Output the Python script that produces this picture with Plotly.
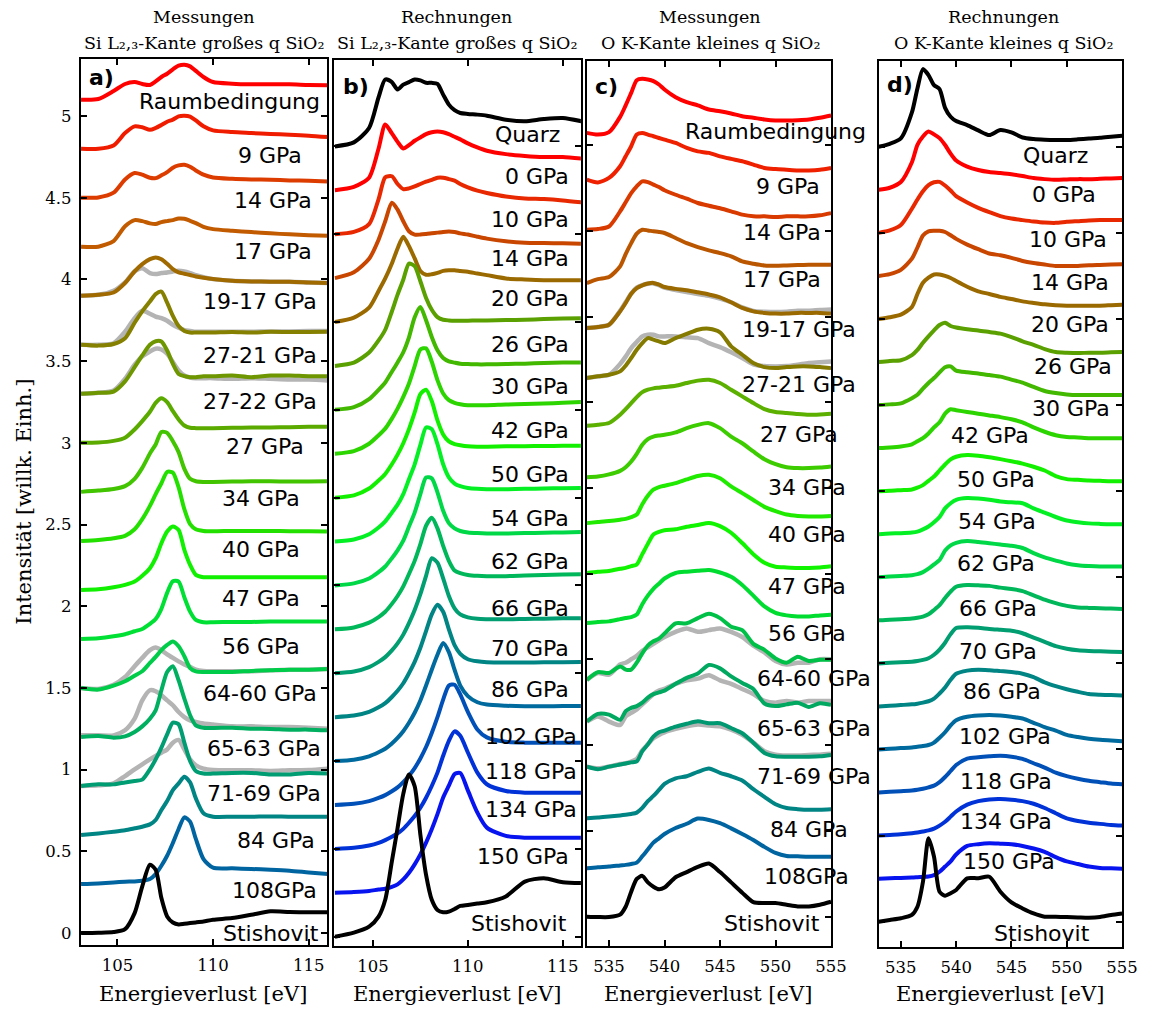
import plotly.graph_objects as go

W, H = 1160, 1009


def fx(p):
    return p / W


def fy(p):
    return 1 - p / H


# ---------------- Panel a : Messungen Si L2,3 ----------------
a_energy = [103.1, 104, 104.8, 105.4, 105.9, 106.3, 106.7, 107.0, 107.3, 107.6, 107.9, 108.2,
            108.5, 108.8, 109.1, 109.5, 110, 111, 112, 113, 114, 115, 116]
a_labels = ["Raumbedingung", "9 GPa", "14 GPa", "17 GPa", "19-17 GPa", "27-21 GPa", "27-22 GPa",
            "27 GPa", "34 GPa", "40 GPa", "47 GPa", "56 GPa", "64-60 GPa", "65-63 GPa",
            "71-69 GPa", "84 GPa", "108GPa", "Stishovit"]
a_offsets = [5.1, 4.8, 4.5, 4.2, 3.9, 3.6, 3.3, 3.0, 2.7, 2.4, 2.1, 1.8, 1.5, 1.2, 0.9, 0.6, 0.3, 0.0]
a_intensity = [
    [0, 0.004, 0.053, 0.096, 0.108, 0.096, 0.090, 0.112, 0.139, 0.159, 0.186, 0.208, 0.214, 0.204, 0.176, 0.139, 0.108, 0.098, 0.094, 0.094, 0.094, 0.090, 0.088],
    [0, 0, 0.020, 0.096, 0.137, 0.131, 0.116, 0.127, 0.145, 0.165, 0.178, 0.198, 0.202, 0.196, 0.173, 0.137, 0.112, 0.102, 0.096, 0.090, 0.086, 0.080, 0.071],
    [0, 0.002, 0.031, 0.112, 0.151, 0.141, 0.122, 0.120, 0.137, 0.157, 0.184, 0.198, 0.202, 0.190, 0.167, 0.141, 0.124, 0.116, 0.112, 0.110, 0.106, 0.104, 0.100],
    [0, 0, 0.035, 0.125, 0.163, 0.157, 0.143, 0.139, 0.151, 0.157, 0.163, 0.173, 0.171, 0.159, 0.145, 0.122, 0.108, 0.098, 0.090, 0.082, 0.076, 0.071, 0.067],
    [0, 0.006, 0.020, 0.078, 0.149, 0.194, 0.224, 0.235, 0.224, 0.196, 0.163, 0.143, 0.135, 0.127, 0.118, 0.110, 0.102, 0.092, 0.088, 0.086, 0.086, 0.082, 0.078],
    [0, -0.005, 0.005, 0.040, 0.135, 0.205, 0.265, 0.310, 0.325, 0.258, 0.177, 0.115, 0.085, 0.075, 0.075, 0.075, 0.075, 0.078, 0.075, 0.080, 0.078, 0.078, 0.080],
    [0, 0.006, 0.014, 0.076, 0.163, 0.235, 0.300, 0.322, 0.320, 0.265, 0.184, 0.122, 0.108, 0.102, 0.102, 0.108, 0.108, 0.112, 0.102, 0.112, 0.112, 0.108, 0.108],
    [0, 0.002, 0.012, 0.031, 0.082, 0.133, 0.190, 0.245, 0.273, 0.249, 0.194, 0.143, 0.106, 0.092, 0.090, 0.090, 0.090, 0.092, 0.094, 0.094, 0.096, 0.098, 0.098],
    [0, 0.008, 0.018, 0.035, 0.080, 0.147, 0.235, 0.290, 0.367, 0.361, 0.310, 0.243, 0.141, 0.080, 0.065, 0.061, 0.061, 0.063, 0.065, 0.065, 0.063, 0.063, 0.065],
    [0, 0.006, 0.016, 0.031, 0.071, 0.133, 0.214, 0.286, 0.353, 0.422, 0.418, 0.327, 0.194, 0.102, 0.071, 0.061, 0.059, 0.061, 0.061, 0.061, 0.059, 0.059, 0.057],
    [0, 0.004, 0.016, 0.031, 0.051, 0.086, 0.133, 0.194, 0.286, 0.357, 0.388, 0.367, 0.245, 0.153, 0.092, 0.078, 0.078, 0.078, 0.078, 0.078, 0.078, 0.078, 0.078],
    [0, 0.004, 0.016, 0.029, 0.047, 0.061, 0.092, 0.122, 0.184, 0.282, 0.353, 0.351, 0.255, 0.167, 0.116, 0.102, 0.102, 0.104, 0.104, 0.106, 0.106, 0.106, 0.106],
    [0, -0.010, 0.014, 0.041, 0.075, 0.102, 0.153, 0.190, 0.231, 0.263, 0.284, 0.255, 0.194, 0.122, 0.102, 0.098, 0.098, 0.098, 0.104, 0.108, 0.112, 0.112, 0.116],
    [0, 0.006, -0.004, 0.004, 0.031, 0.065, 0.112, 0.163, 0.286, 0.398, 0.433, 0.347, 0.235, 0.133, 0.071, 0.057, 0.055, 0.057, 0.051, 0.049, 0.045, 0.045, 0.041],
    [0, 0.010, 0.010, 0.022, 0.031, 0.039, 0.102, 0.163, 0.235, 0.316, 0.388, 0.378, 0.265, 0.153, 0.092, 0.076, 0.076, 0.080, 0.080, 0.071, 0.071, 0.080, 0.076],
    [0, 0.010, 0.020, 0.029, 0.041, 0.051, 0.065, 0.092, 0.153, 0.208, 0.275, 0.316, 0.357, 0.322, 0.224, 0.133, 0.112, 0.112, 0.112, 0.114, 0.112, 0.112, 0.112],
    [0, 0.004, 0.010, 0.014, 0.016, 0.020, 0.031, 0.061, 0.112, 0.173, 0.251, 0.337, 0.408, 0.382, 0.276, 0.153, 0.100, 0.096, 0.092, 0.088, 0.082, 0.071, 0.061],
    [0, 0.002, 0.006, 0.024, 0.122, 0.286, 0.418, 0.388, 0.214, 0.102, 0.065, 0.053, 0.057, 0.061, 0.065, 0.071, 0.082, 0.092, 0.112, 0.133, 0.129, 0.127, 0.127],
]
a_gray_index = [4, 5, 6, 12, 13, 14]
a_gray_intensity = [
    [0, 0.006, 0.031, 0.082, 0.149, 0.169, 0.139, 0.133, 0.139, 0.143, 0.149, 0.153, 0.149, 0.139, 0.127, 0.114, 0.102, 0.092, 0.088, 0.086, 0.086, 0.082, 0.078],
    [0, 0, 0.010, 0.080, 0.163, 0.208, 0.190, 0.173, 0.163, 0.147, 0.122, 0.105, 0.090, 0.085, 0.080, 0.080, 0.080, 0.080, 0.080, 0.082, 0.082, 0.085, 0.085],
    [0, 0.006, 0.020, 0.092, 0.178, 0.229, 0.259, 0.276, 0.271, 0.245, 0.194, 0.143, 0.112, 0.100, 0.096, 0.096, 0.096, 0.092, 0.096, 0.092, 0.088, 0.088, 0.082],
    [0, -0.006, 0.020, 0.067, 0.133, 0.184, 0.231, 0.247, 0.231, 0.206, 0.184, 0.163, 0.143, 0.129, 0.112, 0.104, 0.102, 0.102, 0.102, 0.108, 0.112, 0.112, 0.116],
    [0.01, 0.01, 0.01, 0.041, 0.112, 0.224, 0.286, 0.280, 0.255, 0.224, 0.194, 0.153, 0.122, 0.102, 0.092, 0.082, 0.076, 0.065, 0.065, 0.061, 0.061, 0.057, 0.051],
    [0, 0.004, 0.016, 0.061, 0.102, 0.133, 0.163, 0.184, 0.204, 0.224, 0.265, 0.282, 0.224, 0.163, 0.127, 0.106, 0.098, 0.096, 0.096, 0.092, 0.096, 0.098, 0.106],
]

# ---------------- Panel b : Rechnungen Si L2,3 ----------------
b_energy = [103, 104, 104.8, 105.3, 105.65, 106.0, 106.3, 106.6, 106.9, 107.2, 107.5, 107.8, 108.1,
            108.4, 108.7, 109.0, 109.3, 109.6, 110, 110.5, 111, 112, 113, 114, 115, 116]
b_labels = ["Quarz", "0 GPa", "10 GPa", "14 GPa", "20 GPa", "26 GPa", "30 GPa", "42 GPa", "50 GPa",
            "54 GPa", "62 GPa", "66 GPa", "70 GPa", "86 GPa", "102 GPa", "118 GPa", "134 GPa",
            "150 GPa", "Stishovit"]
b_offsets = [4.5, 4.25, 4.0, 3.75, 3.5, 3.25, 3.0, 2.75, 2.5, 2.25, 2.0, 1.75, 1.5, 1.25, 1.0,
             0.75, 0.5, 0.25, 0.0]
b_intensity = [
    [0, 0.023, 0.105, 0.280, 0.381, 0.366, 0.324, 0.352, 0.366, 0.381, 0.376, 0.362, 0.362, 0.356, 0.295, 0.238, 0.206, 0.190, 0.185, 0.181, 0.175, 0.152, 0.143, 0.156, 0.162, 0.143],
    [0, 0.019, 0.072, 0.238, 0.375, 0.324, 0.276, 0.238, 0.257, 0.282, 0.301, 0.320, 0.331, 0.335, 0.331, 0.320, 0.305, 0.290, 0.267, 0.244, 0.225, 0.206, 0.196, 0.190, 0.190, 0.181],
    [0, 0.013, 0.057, 0.200, 0.324, 0.330, 0.286, 0.257, 0.261, 0.272, 0.286, 0.299, 0.310, 0.322, 0.322, 0.314, 0.305, 0.286, 0.267, 0.248, 0.235, 0.215, 0.204, 0.200, 0.192, 0.181],
    [0, 0.034, 0.110, 0.219, 0.324, 0.429, 0.390, 0.324, 0.267, 0.248, 0.248, 0.251, 0.255, 0.259, 0.263, 0.265, 0.263, 0.255, 0.248, 0.236, 0.225, 0.210, 0.202, 0.200, 0.198, 0.196],
    [0, 0.025, 0.082, 0.177, 0.248, 0.333, 0.419, 0.486, 0.432, 0.362, 0.291, 0.269, 0.272, 0.280, 0.291, 0.295, 0.295, 0.291, 0.286, 0.276, 0.267, 0.248, 0.242, 0.238, 0.238, 0.238],
    [0, 0.019, 0.076, 0.145, 0.206, 0.310, 0.406, 0.491, 0.583, 0.568, 0.482, 0.387, 0.320, 0.278, 0.263, 0.259, 0.257, 0.257, 0.257, 0.259, 0.259, 0.261, 0.263, 0.267, 0.270, 0.272],
    [0, 0.015, 0.061, 0.114, 0.156, 0.217, 0.270, 0.328, 0.413, 0.527, 0.585, 0.510, 0.415, 0.339, 0.295, 0.276, 0.269, 0.263, 0.261, 0.259, 0.259, 0.261, 0.263, 0.267, 0.269, 0.270],
    [0, 0.015, 0.057, 0.105, 0.143, 0.200, 0.257, 0.324, 0.400, 0.499, 0.594, 0.600, 0.524, 0.419, 0.343, 0.305, 0.290, 0.282, 0.276, 0.276, 0.276, 0.280, 0.283, 0.286, 0.290, 0.295],
    [0, 0.013, 0.052, 0.098, 0.135, 0.190, 0.245, 0.310, 0.390, 0.485, 0.590, 0.615, 0.550, 0.440, 0.360, 0.320, 0.305, 0.298, 0.292, 0.290, 0.290, 0.292, 0.293, 0.294, 0.295, 0.296],
    [0, 0.012, 0.042, 0.080, 0.115, 0.165, 0.210, 0.270, 0.355, 0.440, 0.550, 0.650, 0.640, 0.555, 0.440, 0.365, 0.330, 0.315, 0.305, 0.300, 0.298, 0.298, 0.300, 0.302, 0.304, 0.305],
    [0, 0.012, 0.040, 0.076, 0.108, 0.155, 0.200, 0.255, 0.335, 0.415, 0.520, 0.615, 0.610, 0.530, 0.425, 0.355, 0.325, 0.310, 0.302, 0.298, 0.296, 0.296, 0.298, 0.300, 0.302, 0.304],
    [0, 0.011, 0.038, 0.070, 0.100, 0.145, 0.190, 0.245, 0.315, 0.390, 0.485, 0.590, 0.635, 0.575, 0.475, 0.390, 0.335, 0.320, 0.310, 0.305, 0.303, 0.303, 0.306, 0.309, 0.312, 0.314],
    [0, 0.010, 0.035, 0.065, 0.092, 0.130, 0.170, 0.220, 0.285, 0.360, 0.450, 0.555, 0.655, 0.630, 0.540, 0.440, 0.370, 0.335, 0.318, 0.310, 0.308, 0.307, 0.309, 0.311, 0.313, 0.314],
    [0, 0.009, 0.030, 0.056, 0.080, 0.115, 0.150, 0.193, 0.250, 0.315, 0.395, 0.490, 0.585, 0.640, 0.600, 0.500, 0.410, 0.360, 0.330, 0.318, 0.313, 0.311, 0.311, 0.312, 0.313, 0.314],
    [0, 0.008, 0.027, 0.050, 0.070, 0.100, 0.132, 0.170, 0.218, 0.275, 0.345, 0.430, 0.520, 0.605, 0.672, 0.620, 0.520, 0.430, 0.370, 0.335, 0.322, 0.315, 0.312, 0.312, 0.313, 0.314],
    [0, 0.007, 0.022, 0.040, 0.056, 0.078, 0.100, 0.130, 0.166, 0.210, 0.265, 0.330, 0.410, 0.500, 0.600, 0.680, 0.685, 0.630, 0.530, 0.430, 0.385, 0.360, 0.355, 0.355, 0.355, 0.355],
    [0, 0.006, 0.019, 0.034, 0.050, 0.069, 0.088, 0.114, 0.149, 0.187, 0.234, 0.291, 0.358, 0.434, 0.530, 0.615, 0.669, 0.644, 0.549, 0.434, 0.368, 0.330, 0.320, 0.320, 0.320, 0.320],
    [0, 0.004, 0.010, 0.019, 0.023, 0.034, 0.048, 0.076, 0.114, 0.162, 0.219, 0.286, 0.362, 0.448, 0.543, 0.610, 0.676, 0.682, 0.583, 0.457, 0.371, 0.324, 0.314, 0.314, 0.314, 0.314],
    [0, 0.023, 0.057, 0.114, 0.210, 0.429, 0.619, 0.813, 0.924, 0.857, 0.581, 0.352, 0.210, 0.152, 0.139, 0.143, 0.158, 0.175, 0.181, 0.189, 0.196, 0.229, 0.314, 0.333, 0.310, 0.305],
]

# ---------------- Panel c : Messungen O K ----------------
c_energy = [533, 534, 535, 536, 536.5, 537, 537.5, 538, 538.5, 539, 539.5, 540, 541, 542, 543, 544,
            545, 546, 547, 548, 549, 550, 551, 552, 553, 554, 555]
c_labels = ["Raumbedingung", "9 GPa", "14 GPa", "17 GPa", "19-17 GPa", "27-21 GPa", "27 GPa",
            "34 GPa", "40 GPa", "47 GPa", "56 GPa", "64-60 GPa", "65-63 GPa", "71-69 GPa",
            "84 GPa", "108GPa", "Stishovit"]
c_offsets = [4.571, 4.298, 4.006, 3.695, 3.433, 3.141, 2.863, 2.563, 2.295, 2.004, 1.712, 1.381,
             1.138, 0.875, 0.574, 0.282, 0.0]
c_intensity = [
    [0, -0.010, 0.004, 0.093, 0.160, 0.233, 0.307, 0.315, 0.311, 0.302, 0.282, 0.253, 0.208, 0.179, 0.160, 0.136, 0.126, 0.113, 0.097, 0.088, 0.078, 0.072, 0.072, 0.074, 0.078, 0.088, 0.101],
    [0, -0.016, 0.010, 0.078, 0.136, 0.195, 0.263, 0.272, 0.263, 0.253, 0.243, 0.233, 0.214, 0.185, 0.165, 0.156, 0.136, 0.121, 0.107, 0.088, 0.068, 0.062, 0.058, 0.054, 0.054, 0.058, 0.068],
    [0, 0.004, 0.019, 0.107, 0.160, 0.214, 0.253, 0.282, 0.278, 0.263, 0.249, 0.230, 0.204, 0.181, 0.156, 0.140, 0.125, 0.107, 0.088, 0.078, 0.078, 0.074, 0.078, 0.078, 0.078, 0.084, 0.097],
    [0, 0.023, 0.035, 0.097, 0.169, 0.233, 0.288, 0.311, 0.307, 0.302, 0.298, 0.292, 0.263, 0.233, 0.210, 0.191, 0.175, 0.156, 0.126, 0.113, 0.103, 0.101, 0.103, 0.105, 0.107, 0.107, 0.107],
    [0, 0.006, 0.019, 0.097, 0.146, 0.200, 0.233, 0.249, 0.259, 0.263, 0.253, 0.239, 0.228, 0.220, 0.208, 0.195, 0.179, 0.150, 0.117, 0.097, 0.088, 0.084, 0.084, 0.088, 0.088, 0.088, 0.084],
    [0, 0.010, 0.019, 0.039, 0.072, 0.117, 0.165, 0.204, 0.233, 0.224, 0.214, 0.204, 0.233, 0.257, 0.282, 0.288, 0.267, 0.185, 0.136, 0.088, 0.064, 0.058, 0.064, 0.068, 0.068, 0.064, 0.058],
    [0, 0.006, 0.016, 0.064, 0.097, 0.132, 0.167, 0.196, 0.210, 0.218, 0.222, 0.226, 0.233, 0.249, 0.263, 0.268, 0.249, 0.210, 0.171, 0.132, 0.097, 0.080, 0.074, 0.068, 0.064, 0.066, 0.070],
    [0, 0.004, 0.016, 0.037, 0.058, 0.091, 0.136, 0.189, 0.222, 0.237, 0.243, 0.247, 0.261, 0.286, 0.305, 0.315, 0.286, 0.237, 0.198, 0.150, 0.105, 0.076, 0.058, 0.053, 0.053, 0.056, 0.062],
    [0, 0.006, 0.012, 0.020, 0.025, 0.035, 0.050, 0.110, 0.160, 0.195, 0.210, 0.218, 0.233, 0.255, 0.275, 0.282, 0.262, 0.214, 0.175, 0.135, 0.095, 0.070, 0.050, 0.042, 0.039, 0.039, 0.042],
    [0, 0.008, 0.012, 0.025, 0.030, 0.040, 0.050, 0.110, 0.170, 0.225, 0.240, 0.250, 0.255, 0.270, 0.280, 0.292, 0.274, 0.235, 0.175, 0.110, 0.060, 0.037, 0.033, 0.030, 0.030, 0.033, 0.039],
    [0, 0.006, 0.010, 0.023, 0.030, 0.035, 0.050, 0.110, 0.160, 0.200, 0.230, 0.260, 0.292, 0.300, 0.305, 0.310, 0.295, 0.270, 0.222, 0.160, 0.097, 0.060, 0.045, 0.039, 0.039, 0.045, 0.049],
    [0, 0.045, 0.040, 0.078, 0.060, 0.060, 0.100, 0.155, 0.200, 0.225, 0.240, 0.270, 0.330, 0.330, 0.360, 0.385, 0.360, 0.310, 0.290, 0.210, 0.175, 0.125, 0.100, 0.135, 0.110, 0.117, 0.117],
    [0, 0.045, 0.040, 0.010, 0.060, 0.080, 0.090, 0.110, 0.140, 0.160, 0.170, 0.180, 0.220, 0.255, 0.280, 0.330, 0.310, 0.263, 0.225, 0.190, 0.105, 0.090, 0.100, 0.110, 0.085, 0.107, 0.097],
    [0, -0.015, 0, 0.012, 0.018, 0.025, 0.030, 0.090, 0.130, 0.175, 0.200, 0.210, 0.233, 0.250, 0.265, 0.253, 0.253, 0.225, 0.195, 0.140, 0.080, 0.060, 0.058, 0.058, 0.058, 0.060, 0.068],
    [0, 0.004, 0.010, 0.016, 0.020, 0.025, 0.033, 0.060, 0.100, 0.130, 0.165, 0.200, 0.233, 0.245, 0.270, 0.290, 0.265, 0.245, 0.220, 0.170, 0.125, 0.082, 0.060, 0.053, 0.049, 0.050, 0.053],
    [0, 0.006, 0.010, 0.017, 0.020, 0.025, 0.033, 0.070, 0.110, 0.150, 0.175, 0.200, 0.235, 0.260, 0.290, 0.282, 0.263, 0.233, 0.200, 0.165, 0.125, 0.090, 0.072, 0.070, 0.068, 0.068, 0.068],
    [0, -0.002, -0.002, 0.012, 0.058, 0.146, 0.220, 0.238, 0.200, 0.175, 0.160, 0.170, 0.230, 0.260, 0.290, 0.310, 0.260, 0.200, 0.140, 0.085, 0.080, 0.080, 0.070, 0.060, 0.060, 0.070, 0.087],
]
c_gray_index = [4, 5, 11, 12, 13]
c_gray_intensity = [
    [0, 0.006, 0.019, 0.100, 0.150, 0.200, 0.235, 0.250, 0.258, 0.260, 0.250, 0.235, 0.222, 0.210, 0.198, 0.188, 0.172, 0.150, 0.120, 0.100, 0.095, 0.093, 0.095, 0.100, 0.100, 0.105, 0.108],
    [0, 0.010, 0.019, 0.082, 0.125, 0.175, 0.210, 0.243, 0.253, 0.253, 0.243, 0.243, 0.243, 0.238, 0.233, 0.204, 0.180, 0.150, 0.117, 0.080, 0.070, 0.068, 0.070, 0.078, 0.088, 0.092, 0.097],
    [0, 0.040, 0.030, 0.090, 0.100, 0.120, 0.140, 0.170, 0.190, 0.210, 0.230, 0.250, 0.280, 0.300, 0.280, 0.290, 0.300, 0.280, 0.250, 0.200, 0.160, 0.110, 0.090, 0.100, 0.100, 0.120, 0.120],
    [0, 0.030, 0.000, -0.020, 0.030, 0.050, 0.070, 0.100, 0.130, 0.160, 0.180, 0.190, 0.220, 0.240, 0.250, 0.270, 0.240, 0.220, 0.190, 0.160, 0.120, 0.110, 0.120, 0.110, 0.120, 0.120, 0.120],
    [0, -0.010, 0, 0.015, 0.020, 0.030, 0.045, 0.095, 0.130, 0.165, 0.185, 0.200, 0.220, 0.235, 0.245, 0.240, 0.235, 0.215, 0.185, 0.140, 0.090, 0.070, 0.065, 0.065, 0.068, 0.070, 0.075],
]

# ---------------- Panel d : Rechnungen O K ----------------
d_energy = c_energy
d_labels = ["Quarz", "0 GPa", "10 GPa", "14 GPa", "20 GPa", "26 GPa", "30 GPa", "42 GPa", "50 GPa",
            "54 GPa", "62 GPa", "66 GPa", "70 GPa", "86 GPa", "102 GPa", "118 GPa", "134 GPa",
            "150 GPa", "Stishovit"]
d_offsets = [4.5, 4.25, 4.0, 3.75, 3.5, 3.25, 3.0, 2.75, 2.5, 2.25, 2.0, 1.75, 1.5, 1.25, 1.0,
             0.75, 0.5, 0.25, 0.0]
d_intensity = [
    [0, 0.017, 0.048, 0.199, 0.339, 0.451, 0.416, 0.358, 0.335, 0.226, 0.174, 0.149, 0.126, 0.095, 0.068, 0.097, 0.083, 0.054, 0.045, 0.041, 0.039, 0.039, 0.043, 0.048, 0.052, 0.058, 0.064],
    [0, 0.012, 0.045, 0.160, 0.261, 0.310, 0.339, 0.322, 0.300, 0.260, 0.210, 0.170, 0.135, 0.115, 0.103, 0.097, 0.090, 0.080, 0.068, 0.062, 0.058, 0.060, 0.062, 0.062, 0.064, 0.066, 0.068],
    [0, 0.014, 0.045, 0.140, 0.194, 0.242, 0.277, 0.294, 0.296, 0.275, 0.246, 0.213, 0.176, 0.145, 0.120, 0.097, 0.083, 0.074, 0.066, 0.060, 0.058, 0.064, 0.068, 0.072, 0.074, 0.074, 0.074],
    [0, 0.010, 0.035, 0.100, 0.165, 0.235, 0.258, 0.262, 0.262, 0.255, 0.236, 0.215, 0.182, 0.155, 0.130, 0.120, 0.105, 0.087, 0.075, 0.066, 0.058, 0.058, 0.058, 0.062, 0.064, 0.066, 0.068],
    [0, 0.010, 0.025, 0.070, 0.145, 0.210, 0.240, 0.258, 0.258, 0.250, 0.238, 0.220, 0.187, 0.160, 0.145, 0.128, 0.116, 0.102, 0.093, 0.085, 0.080, 0.077, 0.077, 0.077, 0.077, 0.080, 0.083],
    [0, 0.006, 0.010, 0.040, 0.070, 0.112, 0.149, 0.184, 0.215, 0.228, 0.209, 0.200, 0.190, 0.183, 0.174, 0.165, 0.145, 0.120, 0.100, 0.075, 0.058, 0.054, 0.052, 0.054, 0.054, 0.056, 0.058],
    [0, 0.004, 0.010, 0.040, 0.060, 0.095, 0.128, 0.157, 0.190, 0.220, 0.225, 0.200, 0.190, 0.183, 0.174, 0.165, 0.148, 0.130, 0.105, 0.082, 0.070, 0.062, 0.058, 0.058, 0.058, 0.058, 0.058],
    [0, 0.004, 0.010, 0.022, 0.040, 0.058, 0.085, 0.120, 0.150, 0.200, 0.226, 0.220, 0.210, 0.200, 0.190, 0.180, 0.168, 0.150, 0.120, 0.095, 0.075, 0.065, 0.062, 0.058, 0.058, 0.058, 0.058],
    [0, 0.002, 0.006, 0.010, 0.020, 0.035, 0.060, 0.085, 0.120, 0.155, 0.185, 0.200, 0.210, 0.206, 0.197, 0.186, 0.174, 0.160, 0.142, 0.120, 0.087, 0.070, 0.066, 0.062, 0.060, 0.058, 0.058],
    [0, 0.004, 0.006, 0.010, 0.015, 0.028, 0.045, 0.070, 0.100, 0.150, 0.180, 0.200, 0.210, 0.207, 0.200, 0.190, 0.185, 0.180, 0.150, 0.125, 0.100, 0.080, 0.070, 0.063, 0.060, 0.058, 0.058],
    [0, 0.004, 0.008, 0.012, 0.018, 0.030, 0.050, 0.075, 0.100, 0.155, 0.185, 0.200, 0.210, 0.205, 0.198, 0.190, 0.183, 0.170, 0.140, 0.115, 0.097, 0.080, 0.070, 0.065, 0.062, 0.062, 0.062],
    [0, 0.004, 0.006, 0.010, 0.015, 0.022, 0.035, 0.060, 0.088, 0.130, 0.167, 0.195, 0.205, 0.203, 0.200, 0.190, 0.182, 0.170, 0.145, 0.120, 0.100, 0.084, 0.075, 0.072, 0.070, 0.068, 0.066],
    [0, 0.004, 0.006, 0.010, 0.014, 0.020, 0.030, 0.050, 0.080, 0.120, 0.170, 0.205, 0.210, 0.207, 0.200, 0.195, 0.190, 0.175, 0.150, 0.125, 0.100, 0.085, 0.076, 0.072, 0.070, 0.068, 0.066],
    [0, 0.004, 0.008, 0.012, 0.016, 0.022, 0.030, 0.045, 0.075, 0.110, 0.155, 0.190, 0.208, 0.213, 0.210, 0.205, 0.200, 0.190, 0.170, 0.140, 0.118, 0.100, 0.085, 0.072, 0.068, 0.066, 0.064],
    [0, 0.004, 0.008, 0.012, 0.016, 0.020, 0.026, 0.040, 0.068, 0.100, 0.140, 0.170, 0.190, 0.197, 0.200, 0.197, 0.190, 0.180, 0.155, 0.130, 0.110, 0.085, 0.072, 0.062, 0.056, 0.052, 0.048],
    [0, 0.004, 0.008, 0.012, 0.016, 0.022, 0.030, 0.040, 0.060, 0.090, 0.125, 0.160, 0.197, 0.205, 0.210, 0.213, 0.208, 0.195, 0.170, 0.145, 0.115, 0.095, 0.080, 0.068, 0.060, 0.052, 0.048],
    [0, 0.004, 0.008, 0.014, 0.018, 0.024, 0.030, 0.040, 0.058, 0.080, 0.110, 0.140, 0.180, 0.200, 0.210, 0.212, 0.208, 0.200, 0.185, 0.160, 0.130, 0.100, 0.085, 0.075, 0.068, 0.062, 0.058],
    [0, 0.002, 0.004, 0.006, 0.008, 0.010, 0.012, 0.020, 0.040, 0.070, 0.100, 0.140, 0.190, 0.200, 0.205, 0.203, 0.200, 0.190, 0.175, 0.155, 0.125, 0.100, 0.085, 0.070, 0.062, 0.060, 0.058],
    [0, 0.010, 0.020, 0.040, 0.087, 0.232, 0.484, 0.377, 0.174, 0.151, 0.165, 0.184, 0.252, 0.252, 0.261, 0.174, 0.112, 0.077, 0.048, 0.029, 0.029, 0.027, 0.025, 0.023, 0.027, 0.039, 0.048],
]

# ---------------- styles ----------------
a_colors = ["#ff0000", "#f01c00", "#dc3c00", "#c25a00", "#a06a00", "#868000", "#6e9600", "#5aaa00",
            "#42c400", "#24e000", "#10f000", "#00e034", "#00cc4a", "#00b060", "#009c72", "#008484",
            "#0064a0", "#000000"]
b_colors = ["#000000", "#ff0000", "#e82800", "#c84600", "#9a6a00", "#5aa000", "#42b800", "#2cd400",
            "#12f000", "#04f024", "#00d848", "#00b85a", "#009e70", "#008484", "#006a9e", "#0050b8",
            "#0032d8", "#0814f0", "#000000"]
c_colors = ["#ff0000", "#ee2000", "#d83a00", "#bb5600", "#9a6a00", "#857a00", "#5cb000", "#3ccc00",
            "#20ea00", "#10f400", "#00dc30", "#00c048", "#00a860", "#009870", "#008484", "#0064a0",
            "#000000"]
d_colors = b_colors
gray = "#b4b4b4"

a_label_right_px = [326, 308, 318, 318, 323, 323, 323, 310, 306, 306, 306, 306, 323, 328, 328, 321, 323, 325]
a_label_y = [5.088, 4.761, 4.486, 4.168, 3.862, 3.537, 3.252, 2.976, 2.662, 2.350, 2.050, 1.752,
             1.469, 1.132, 0.857, 0.569, 0.263, 0.0]
b_label_right_px = [570, 579, 579, 579, 579, 579, 579, 579, 579, 579, 579, 579, 579, 579, 587, 587, 587, 579, 577]
b_label_y = [4.565, 4.328, 4.081, 3.863, 3.636, 3.37, 3.132, 2.885, 2.629, 2.383, 2.135, 1.87,
             1.642, 1.405, 1.139, 0.94, 0.722, 0.456, 0.076]
c_label_right_px = [880, 833, 835, 835, 870, 870, 852, 860, 860, 860, 860, 885, 885, 885, 862, 863, 834]
c_label_y = [4.58, 4.259, 3.987, 3.715, 3.423, 3.102, 2.81, 2.505, 2.227, 1.925, 1.653, 1.391,
             1.099, 0.817, 0.506, 0.233, -0.039]
d_label_right_px = [1105, 1113, 1125, 1127, 1127, 1130, 1128, 1045, 1052, 1053, 1051, 1054, 1054,
                    1058, 1068, 1069, 1069, 1072, 1107]
d_label_y = [4.452, 4.22, 3.959, 3.711, 3.465, 3.223, 2.981, 2.826, 2.565, 2.323, 2.081, 1.82,
             1.568, 1.336, 1.074, 0.813, 0.581, 0.348, -0.067]

fig = go.Figure()
annotations = []

panels = [
    ("x", "y", a_energy, a_offsets, a_intensity, a_colors, a_gray_index, a_gray_intensity,
     a_labels, a_label_right_px, a_label_y),
    ("x2", "y2", b_energy, b_offsets, b_intensity, b_colors, [], [],
     b_labels, b_label_right_px, b_label_y),
    ("x3", "y3", c_energy, c_offsets, c_intensity, c_colors, c_gray_index, c_gray_intensity,
     c_labels, c_label_right_px, c_label_y),
    ("x4", "y4", d_energy, d_offsets, d_intensity, d_colors, [], [],
     d_labels, d_label_right_px, d_label_y),
]

for xa, ya, en, offs, vals, cols, gidx, gvals, labs, lx, ly in panels:
    for gi, gv in zip(gidx, gvals):
        fig.add_trace(go.Scatter(x=en, y=[offs[gi] + v for v in gv], xaxis=xa, yaxis=ya,
                                 mode="lines", line=dict(color=gray, width=4.5, shape="spline",
                                                         smoothing=0.7),
                                 showlegend=False, hoverinfo="skip"))
    for i in range(len(vals)):
        fig.add_trace(go.Scatter(x=en, y=[offs[i] + v for v in vals[i]], xaxis=xa, yaxis=ya,
                                 mode="lines", line=dict(color=cols[i], width=4, shape="spline",
                                                         smoothing=0.7),
                                 name=labs[i], showlegend=False, hoverinfo="skip"))
    for lab, px_r, yv in zip(labs, lx, ly):
        annotations.append(dict(x=fx(px_r), xref="paper", y=yv, yref=ya, text=lab,
                                showarrow=False, xanchor="right", yanchor="middle",
                                font=dict(family="DejaVu Sans", size=22, color="black")))

serif = "DejaVu Serif"
titles = [
    (207, "Messungen", "Si L\u2082,\u2083-Kante großes q SiO\u2082"),
    (463, "Rechnungen", "Si L\u2082,\u2083-Kante großes q SiO\u2082"),
    (720, "Messungen", "O K-Kante kleines q SiO\u2082"),
    (1018, "Rechnungen", "O K-Kante kleines q SiO\u2082"),
]
for cx, t1, t2 in titles:
    annotations.append(dict(x=fx(cx), y=fy(17), xref="paper", yref="paper", text=t1, showarrow=False,
                            xanchor="center", yanchor="middle",
                            font=dict(family=serif, size=17.5, color="black")))
    annotations.append(dict(x=fx(cx), y=fy(43), xref="paper", yref="paper", text=t2, showarrow=False,
                            xanchor="center", yanchor="middle",
                            font=dict(family=serif, size=17.5, color="black")))

for cx in [206, 463, 718, 1014]:
    annotations.append(dict(x=fx(cx), y=fy(994), xref="paper", yref="paper",
                            text="Energieverlust [eV]", showarrow=False, xanchor="center",
                            yanchor="middle", font=dict(family=serif, size=21, color="black")))

annotations.append(dict(x=fx(24), y=fy(502), xref="paper", yref="paper",
                        text="Intensität [willk. Einh.]", showarrow=False, textangle=-90,
                        xanchor="center", yanchor="middle",
                        font=dict(family=serif, size=21, color="black")))

for lx_, ly_, t in [(88, 78, "a)"), (346, 86, "b)"), (601, 86, "c)"), (897, 85, "d)")]:
    annotations.append(dict(x=fx(lx_), y=fy(ly_), xref="paper", yref="paper", text="<b>" + t + "</b>",
                            showarrow=False, xanchor="left", yanchor="middle",
                            font=dict(family="DejaVu Sans", size=22, color="black")))

common = dict(showline=True, linewidth=2, linecolor="black", mirror="ticks", ticks="inside",
              ticklen=6, tickwidth=1.5, tickcolor="black", showgrid=False, zeroline=False,
              tickfont=dict(family=serif, size=16.5, color="black"))

yt = [0, 0.5, 1, 1.5, 2, 2.5, 3, 3.5, 4, 4.5, 5]
layout = dict(
    width=W, height=H, margin=dict(l=0, r=0, t=0, b=0),
    paper_bgcolor="white", plot_bgcolor="white", showlegend=False,
    annotations=annotations,
    xaxis=dict(domain=[fx(82), fx(332)], range=[103.09, 115.98], tickvals=[105, 110, 115],
               anchor="y", ticklabelstandoff=4, **common),
    yaxis=dict(domain=[fy(945), fy(59)], range=[-0.073, 5.349], tickvals=yt,
               ticktext=["0", "0.5", "1", "1.5", "2", "2.5", "3", "3.5", "4", "4.5", "5"],
               anchor="x", ticklabelstandoff=4, **common),
    xaxis2=dict(domain=[fx(339), fx(589)], range=[102.97, 115.95], tickvals=[105, 110, 115],
                anchor="y2", ticklabelstandoff=4, **common),
    yaxis2=dict(domain=[fy(946), fy(60)], range=[-0.053, 4.992], tickvals=yt[:-1],
                showticklabels=False, anchor="x2", **common),
    xaxis3=dict(domain=[fx(595), fx(843)], range=[533, 555.03],
                tickvals=[535, 540, 545, 550, 555], anchor="y3", ticklabelstandoff=4, **common),
    yaxis3=dict(domain=[fy(946), fy(61)], range=[-0.171, 4.99], tickvals=yt[:-1],
                showticklabels=False, anchor="x3", **common),
    xaxis4=dict(domain=[fx(891), fx(1138)], range=[533.0, 555.02],
                tickvals=[535, 540, 545, 550, 555], anchor="y4", ticklabelstandoff=4, **common),
    yaxis4=dict(domain=[fy(947), fy(61)], range=[-0.147, 4.998], tickvals=yt[:-1],
                showticklabels=False, anchor="x4", **common),
)
fig.update_layout(**layout)
fig.write_html("out.html")
